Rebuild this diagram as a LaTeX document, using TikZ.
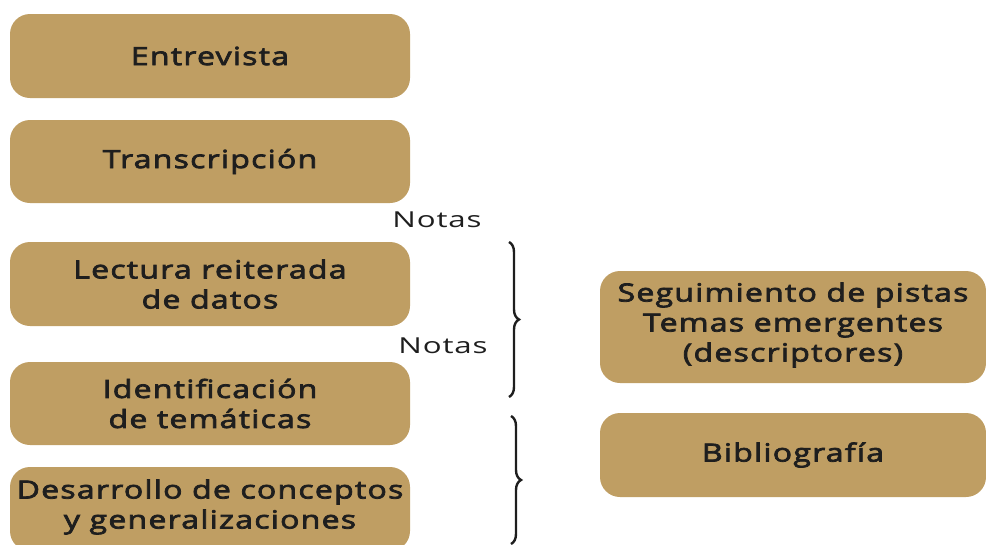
\documentclass[tikz,border=0pt]{standalone}
\usepackage{fontspec}
\setmainfont{Open Sans}
\newfontfamily\boxfont[FakeStretch=1.28,LetterSpace=5,FakeBold=3]{Open Sans}
\newfontfamily\notefont[FakeStretch=1.42,LetterSpace=4]{Open Sans}
\usetikzlibrary{decorations.pathreplacing}
\definecolor{boxtan}{HTML}{BF9E63}
\definecolor{inkc}{HTML}{1E1E1E}
\tikzset{
  tanbox/.style={fill=boxtan, rounded corners=20pt, draw=none},
  boxtext/.style={font=\boxfont\fontsize{25}{30}\selectfont, text=inkc, align=center},
  notetext/.style={font=\notefont\fontsize{22}{26}\selectfont, text=inkc},
  bracestyle/.style={draw=inkc, line width=2.4pt, decorate, decoration={brace, amplitude=10pt}}
}
\begin{document}
\begin{tikzpicture}[x=1pt,y=-1pt]
\useasboundingbox (0,0) rectangle (986,544);
\clip (0,0) rectangle (986,544);
% left column
\fill[tanbox] (10,14) rectangle (410,98);
\node[boxtext] (e) at (210,56) {Entrevista};
\fill[tanbox] (10,120) rectangle (410,203);
\node[boxtext] (t) at (210,161.5) {Transcripción};
\fill[tanbox] (10,242) rectangle (410,326);
\node[boxtext] (l) at (210,284) {Lectura reiterada\\de datos};
\fill[tanbox] (10,362) rectangle (410,445);
\node[boxtext] (i) at (210,403.5) {Identificación\\de temáticas};
\fill[tanbox] (10,467) rectangle (410,551);
\node[boxtext] (d) at (210,507) {Desarrollo de conceptos\\y generalizaciones};
% right column
\fill[tanbox] (600,271) rectangle (986,383);
\node[boxtext] (s) at (793,325) {Seguimiento de pistas\\Temas emergentes\\(descriptores)};
\fill[tanbox] (600,413) rectangle (986,497);
\node[boxtext] (b) at (793,455) {Bibliografía};
% notes
\node[notetext] (n1) at (437,220) {Notas};
\node[notetext] (n2) at (443,346) {Notas};
% braces
\coordinate (b1t) at (509,242);
\coordinate (b1b) at (509,397);
\coordinate (b2t) at (511,416);
\coordinate (b2b) at (511,544);
\draw[bracestyle] (b1t) -- (b1b);
\draw[bracestyle] (b2t) -- (b2b);
\end{tikzpicture}
\end{document}
